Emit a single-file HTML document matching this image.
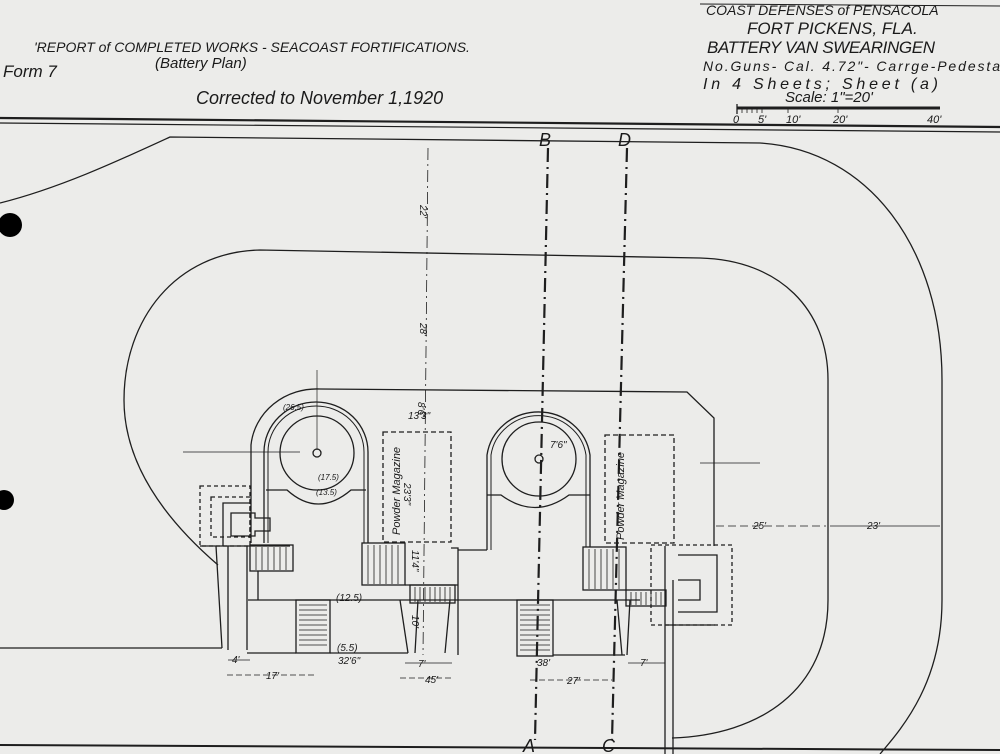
<!DOCTYPE html>
<html><head><meta charset="utf-8"><style>
html,body{margin:0;padding:0;background:#ececea;}
svg{display:block;}
text{font-family:"Liberation Sans",sans-serif;font-style:italic;fill:#1a1a1a;}
</style></head><body>
<svg width="1000" height="754" viewBox="0 0 1000 754" xmlns="http://www.w3.org/2000/svg">
<rect width="1000" height="754" fill="#ececea"/>
<g stroke="#1e1e1e" fill="none" stroke-width="1.3">
<line x1="0" y1="118" x2="1000" y2="127" stroke-width="2.2"/>
<line x1="0" y1="123" x2="1000" y2="132" stroke-width="1.2"/>
<line x1="700" y1="4" x2="1000" y2="6" stroke-width="1"/>
<line x1="737" y1="108" x2="940" y2="108" stroke-width="3"/>
<line x1="737" y1="104" x2="737" y2="114"/>
<g stroke-width="0.8"><line x1="742" y1="108" x2="742" y2="113"/><line x1="747" y1="108" x2="747" y2="113"/><line x1="752" y1="108" x2="752" y2="113"/><line x1="757" y1="108" x2="757" y2="113"/><line x1="762" y1="108" x2="762" y2="113"/><line x1="788" y1="108" x2="788" y2="113"/><line x1="838" y1="108" x2="838" y2="113"/></g>
<path d="M0,203 C60,188 120,160 170,137 L760,143 C870,150 942,250 942,380 L942,600 C942,680 905,725 880,754"/>
<path d="M218,565 C160,515 124,460 124,400 C124,320 175,252 260,250 L700,258 C780,260 828,310 828,380 L828,600 C828,690 760,735 672,738"/>
<line x1="0" y1="648" x2="222" y2="648"/>
<line x1="0" y1="745" x2="1000" y2="750" stroke-width="2"/>
<path d="M320,389 L687,392 L714,418 L714,546"/>
<path d="M251,543 L251,445 A66,62 0 0 1 320,389"/>
<path d="M264,543 L264,452 A52,50 0 0 1 368,452 L368,543"/>
<path d="M268,543 L268,452 A48,46 0 0 1 364,452 L364,543" stroke-width="1"/>
<circle cx="317" cy="453" r="37"/>
<circle cx="317" cy="453" r="4"/>
<path d="M266,490 L287,490 Q318,518 351,490 L366,490"/>
<path d="M487,550 L487,455 A52,50 0 0 1 590,455 L590,547"/>
<path d="M491,550 L491,455 A48,46 0 0 1 586,455 L586,547" stroke-width="1"/>
<circle cx="539" cy="459" r="37"/>
<circle cx="539" cy="459" r="4"/>
<path d="M487,495 L501,495 Q535,520 569,495 L590,495"/>
<path d="M451,548 L458,548 L458,655 M458,550 L487,550"/>
<rect x="383" y="432" width="68" height="110" stroke-dasharray="5,3"/>
<rect x="605" y="435" width="69" height="108" stroke-dasharray="5,3"/>
<rect x="200" y="486" width="50" height="60" stroke-dasharray="4,3"/>
<rect x="211" y="497" width="39" height="40" stroke-dasharray="4,3"/>
<path d="M223,546 L223,503 L251,503 M231,536 L231,513 L255,513 L255,518 L270,518 L270,531 L255,531 L255,536 Z"/>
<path d="M216,546 L222,648 M228,546 L228,650 M247,546 L247,650 M200,546 L290,546"/>
<rect x="250" y="545" width="43" height="26"/>
<line x1="258" y1="571" x2="258" y2="600"/>
<rect x="362" y="543" width="43" height="42"/>
<path d="M405,585 L458,585"/>
<rect x="410" y="585" width="45" height="18"/>
<line x1="248" y1="600" x2="640" y2="600"/>
<path d="M247,653 L296,653 M330,653 L408,653 M400,600 L408,653 M418,600 L415,653 M450,600 L445,653 M553,655 L625,655 M617,600 L622,655 M630,600 L627,655"/>
<rect x="296" y="600" width="34" height="53"/>
<rect x="517" y="600" width="36" height="56"/>
<rect x="583" y="547" width="43" height="43"/>
<rect x="626" y="590" width="40" height="16"/>
<rect x="651" y="545" width="81" height="80" stroke-dasharray="4,3"/>
<path d="M665,546 L665,754 M673,580 L673,754 M678,555 L717,555 L717,612 L678,612 M678,580 L700,580 L700,600 L678,600 M666,625 L715,625"/>
<g stroke-width="0.8">
<path d="M256,547V570M262,547V570M268,547V570M274,547V570M280,547V570M286,547V570"/>
<path d="M368,545V584M374,545V584M380,545V584M386,545V584M392,545V584M398,545V584"/>
<path d="M415,587V602M420,587V602M425,587V602M430,587V602M435,587V602M440,587V602M445,587V602M450,587V602"/>
<path d="M589,549V589M595,549V589M601,549V589M607,549V589M613,549V589M619,549V589"/>
<path d="M631,592V605M636,592V605M641,592V605M646,592V605M651,592V605M656,592V605M661,592V605"/>
<path d="M299,605H327M299,610H327M299,615H327M299,620H327M299,625H327M299,630H327M299,635H327M299,640H327M299,645H327"/>
<path d="M520,605H550M520,610H550M520,615H550M520,620H550M520,625H550M520,630H550M520,635H550M520,640H550M520,645H550M520,650H550"/>
</g>
<g stroke-width="0.7">
<line x1="183" y1="452" x2="300" y2="452"/>
<line x1="317" y1="370" x2="317" y2="450"/>
<line x1="700" y1="463" x2="760" y2="463"/>
</g>
<line x1="428" y1="148" x2="423" y2="655" stroke-width="0.8" stroke-dasharray="12,4,2,4"/>
<g stroke-width="0.8">
<line x1="228" y1="660" x2="250" y2="660"/>
<line x1="227" y1="675" x2="315" y2="675" stroke-dasharray="6,3"/>
<line x1="405" y1="663" x2="452" y2="663"/>
<line x1="400" y1="678" x2="452" y2="678" stroke-dasharray="6,3"/>
<line x1="530" y1="680" x2="612" y2="680" stroke-dasharray="6,3"/>
<line x1="628" y1="663" x2="665" y2="663"/>
<line x1="716" y1="526" x2="826" y2="526" stroke-dasharray="8,4"/>
<line x1="830" y1="526" x2="940" y2="526"/>
</g>
<line x1="548" y1="148" x2="535" y2="740" stroke-width="2.2" stroke-dasharray="14,5,2,5"/>
<line x1="627" y1="148" x2="612" y2="740" stroke-width="2.2" stroke-dasharray="14,5,2,5"/>
</g>
<circle cx="10" cy="225" r="12" fill="#000"/>
<circle cx="4" cy="500" r="10" fill="#000"/>
<text x="34" y="52" font-size="14">'REPORT of COMPLETED WORKS - SEACOAST FORTIFICATIONS.</text>
<text x="155" y="68" font-size="15">(Battery Plan)</text>
<text x="3" y="77" font-size="17">Form 7</text>
<text x="196" y="104" font-size="18">Corrected to November 1,1920</text>
<text x="706" y="15" font-size="14">COAST DEFENSES of PENSACOLA</text>
<text x="747" y="34" font-size="17">FORT PICKENS, FLA.</text>
<text x="707" y="53" font-size="17" textLength="228">BATTERY VAN SWEARINGEN</text>
<text x="703" y="71" font-size="14" textLength="297">No.Guns-   Cal. 4.72"- Carrge-Pedesta</text>
<text x="703" y="89" font-size="16" textLength="235">In 4 Sheets;   Sheet (a)</text>
<text x="785" y="102" font-size="15">Scale: 1"=20'</text>
<g font-size="11"><text x="733" y="123">0</text><text x="758" y="123">5'</text><text x="786" y="123">10'</text><text x="833" y="123">20'</text><text x="927" y="123">40'</text></g>
<text x="539" y="146" font-size="18">B</text>
<text x="618" y="146" font-size="18">D</text>
<text x="523" y="752" font-size="18">A</text>
<text x="602" y="752" font-size="18">C</text>
<g font-size="10">
<text x="420" y="215" transform="rotate(90 425 210)">22'</text>
<text x="420" y="333" transform="rotate(90 425 328)">28'</text>
<text x="418" y="412" transform="rotate(90 423 407)">8'6"</text>
<text x="412" y="560" transform="rotate(90 417 555)">11'4"</text>
<text x="412" y="625" transform="rotate(90 417 620)">10'</text>
<text x="404" y="493" transform="rotate(90 409 488)">23'3"</text>
<text x="408" y="419">13'3"</text>
<text x="283" y="410" font-size="8">(26.5)</text>
<text x="318" y="480" font-size="8">(17.5)</text>
<text x="316" y="495" font-size="8">(13.5)</text>
<text x="550" y="448">7'6"</text>
<text x="336" y="601">(12.5)</text>
<text x="337" y="651">(5.5)</text>
<text x="338" y="664">32'6"</text>
<text x="232" y="663">4'</text>
<text x="266" y="679">17'</text>
<text x="418" y="667">7'</text>
<text x="425" y="683">45'</text>
<text x="537" y="666">38'</text>
<text x="567" y="684">27'</text>
<text x="640" y="666">7'</text>
<text x="753" y="529">25'</text>
<text x="867" y="529">23'</text>
</g>
<text x="400" y="535" font-size="11" transform="rotate(-90 400 535)">Powder Magazine</text>
<text x="624" y="540" font-size="11" transform="rotate(-90 624 540)">Powder Magazine</text>
</svg>
</body></html>
